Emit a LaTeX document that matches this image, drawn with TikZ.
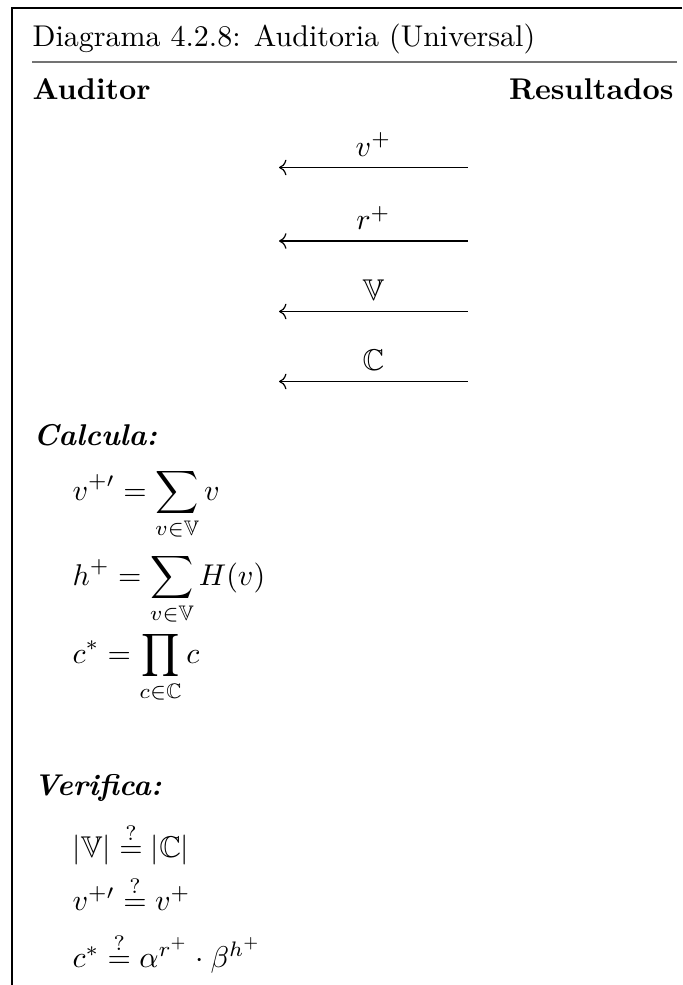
\documentclass[tikz,border=0pt]{standalone}
\usepackage{amsmath,amssymb}
\usetikzlibrary{arrows.meta}
\begin{document}
\begin{tikzpicture}[x=0.3333pt,y=-0.3333pt,
  frame/.style={line width=0.5pt},
  sep/.style={line width=0.8pt,draw=black!55},
  msg/.style={line width=0.4pt,<-},
  lbl/.style={inner sep=0pt,anchor=base},
  txt/.style={inner sep=0pt,anchor=base west},
  eq/.style={inner sep=0pt,anchor=base west}]
\useasboundingbox (0,0) rectangle (682,985);
\coordinate (tl) at (12,8);
\coordinate (tr) at (682,8);
\coordinate (bl) at (12,985);
\draw[frame] (tr) -- (tl) -- (bl);
\node[txt] (title) at (32,47) {Diagrama 4.2.8: Auditoria (Universal)};
\coordinate (s1) at (32,62);
\coordinate (s2) at (677,62);
\draw[sep] (s1) -- (s2);
\node[txt] (aud) at (32,100) {\textbf{Auditor}};
\node[inner sep=0pt,anchor=base east] (res) at (674,100) {\textbf{Resultados}};
% arrows
\foreach \i/\y/\t in {1/167.5/{v^+},2/241/{r^+},3/311.5/{\mathbb{V}},4/381.5/{\mathbb{C}}}{
  \coordinate (a\i) at (279,\y);
  \coordinate (b\i) at (468,\y);
  \draw[msg] (a\i) -- (b\i);
  \node[lbl] (l\i) at (373.5,\y-11) {$\t$};
}
\node[txt] (calc) at (33,445) {\textbf{\textit{Calcula:}}};
\node[eq] (e1) at (72,500) {$\displaystyle v^{+\prime} = \sum_{v\in\mathbb{V}} v$};
\node[eq] (e2) at (72,585) {$\displaystyle h^{+} = \sum_{v\in\mathbb{V}} H(v)$};
\node[eq] (e3) at (72,663) {$\displaystyle c^{*} = \prod_{c\in\mathbb{C}} c$};
\node[txt] (ver) at (33,795) {\textbf{\textit{Verifica:}}};
\node[eq] (f1) at (72,857) {$|\mathbb{V}| \stackrel{?}{=} |\mathbb{C}|$};
\node[eq] (f2) at (72,910) {$v^{+\prime} \stackrel{?}{=} v^{+}$};
\node[eq] (f3) at (72,967) {$c^{*} \stackrel{?}{=} \alpha^{r^+}\cdot\beta^{h^+}$};
\end{tikzpicture}
\end{document}
